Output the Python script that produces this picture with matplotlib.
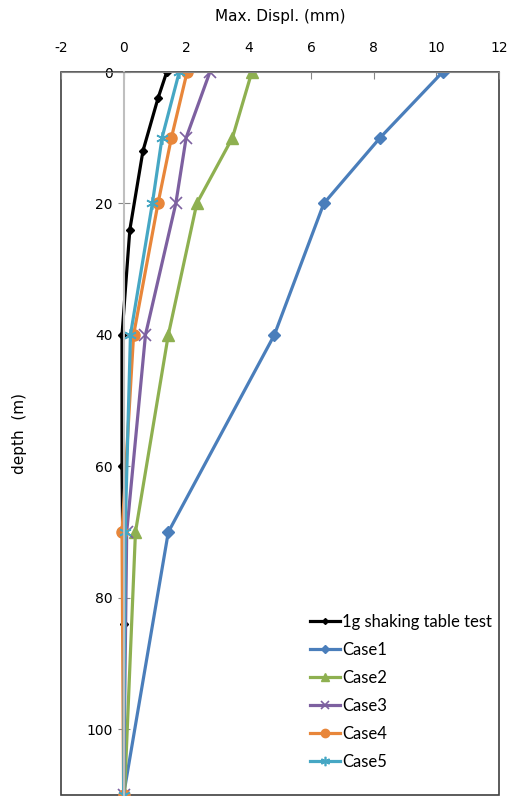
import matplotlib.pyplot as plt
from matplotlib.patches import Rectangle

plt.rcParams['axes.unicode_minus'] = False

# depths (m) and max displacement (mm)
depth_test = [0, 4, 12, 24, 40, 60, 84]
disp_test = [1.38, 1.1, 0.62, 0.2, -0.05, -0.05, 0.0]

depth_case = [0, 10, 20, 40, 70, 110]
case1 = [10.2, 8.2, 6.4, 4.82, 1.43, 0.0]
case2 = [4.1, 3.48, 2.34, 1.43, 0.38, 0.03]
case3 = [2.76, 2.0, 1.67, 0.7, 0.1, 0.0]
case4 = [2.03, 1.53, 1.1, 0.32, -0.05, 0.0]
case5 = [1.78, 1.23, 0.92, 0.22, 0.05, 0.0]

labels = ['1g shaking table test', 'Case1', 'Case2', 'Case3', 'Case4', 'Case5']
colors = ['#000000', '#4A7EBB', '#8EB050', '#7D60A0', '#E8863A', '#46A7C4']

fig = plt.figure(figsize=(5.08, 7.98), dpi=100)
ax = fig.add_axes([61 / 508, 1 - 795 / 798, 438 / 508, 723 / 798])

lw = 2.3
ax.plot(disp_test, depth_test, color=colors[0], lw=lw, marker='D', ms=4, label=labels[0])
ax.plot(case1, depth_case, color=colors[1], lw=lw, marker='D', ms=6, label=labels[1])
ax.plot(case2, depth_case, color=colors[2], lw=lw, marker='^', ms=8, label=labels[2])
ax.plot(case3, depth_case, color=colors[3], lw=lw, marker='x', ms=8, mew=1.2, label=labels[3])
ax.plot(case4, depth_case, color=colors[4], lw=lw, marker='o', ms=8, label=labels[4])
ax.plot(case5, depth_case, color=colors[5], lw=lw, marker=(6, 2, 0), ms=9, mew=1.2, label=labels[5])

ax.set_xlim(-2, 12)
ax.set_ylim(110, 0)
ax.set_xticks(range(-2, 13, 2))
ax.set_yticks(range(0, 101, 20))

# y axis sits at x = 0, plot area gets its own frame
ax.spines['left'].set_position(('data', 0))
ax.spines['left'].set_color('#BFBFBF')
ax.spines['left'].set_linewidth(1.5)
ax.spines['right'].set_visible(False)
ax.spines['bottom'].set_visible(False)
ax.spines['top'].set_color('#868686')
ax.add_patch(Rectangle((0, 0), 1, 1, transform=ax.transAxes, fill=False,
                       edgecolor='#404040', lw=1.2, zorder=0.5, clip_on=False))

ax.xaxis.tick_top()
ax.tick_params(axis='x', direction='in', length=5, color='#868686', pad=12,
               labelsize=10, labelcolor='#000000')
ax.tick_params(axis='y', direction='inout', length=8, color='#868686', pad=4,
               labelsize=10, labelcolor='#000000')

fig.text(280 / 508, 1 - 17 / 798, 'Max. Displ. (mm)', ha='center', va='center', fontsize=11)
fig.text(20 / 508, 1 - 433 / 798, 'depth  (m)', ha='center', va='center',
         rotation=90, fontsize=11)

leg = ax.legend(loc='upper left', bbox_to_anchor=(0.553, 0.26), frameon=False,
                handlelength=1.8, handletextpad=0.15, labelspacing=0.72,
                borderaxespad=0, markerscale=0.75, prop={'family': 'Lato', 'size': 12})

fig.savefig('out.png', dpi=100)
